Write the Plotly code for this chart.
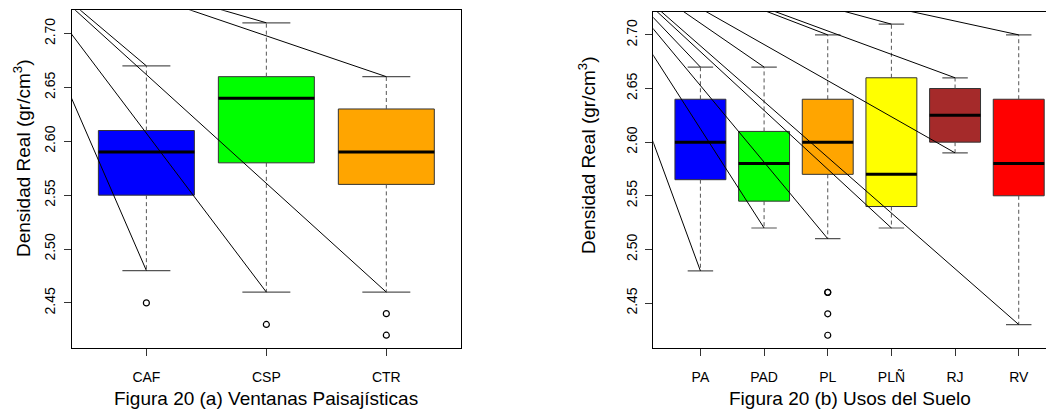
import plotly.graph_objects as go

# ---------------- data ----------------
# Panel (a): Ventanas Paisajisticas
cat_a = ["CAF", "CSP", "CTR"]
low_a = [2.48, 2.46, 2.46]
q1_a = [2.55, 2.58, 2.56]
med_a = [2.59, 2.64, 2.59]
q3_a = [2.61, 2.66, 2.63]
high_a = [2.67, 2.71, 2.66]
out_a = [[2.45], [2.43], [2.44, 2.42]]
col_a = ["#0000FF", "#00FF00", "#FFA500"]

# Panel (b): Usos del Suelo
cat_b = ["PA", "PAD", "PL", "PLÑ", "RJ", "RV"]
low_b = [2.48, 2.52, 2.51, 2.52, 2.59, 2.43]
q1_b = [2.565, 2.545, 2.57, 2.54, 2.60, 2.55]
med_b = [2.60, 2.58, 2.60, 2.57, 2.625, 2.58]
q3_b = [2.64, 2.61, 2.64, 2.66, 2.65, 2.64]
high_b = [2.67, 2.67, 2.70, 2.71, 2.66, 2.70]
out_b = [[], [], [2.46, 2.46, 2.44, 2.42], [], [], []]
col_b = ["#0000FF", "#00FF00", "#FFA500", "#FFFF00", "#A52A2A", "#FF0000"]

y_ticks = [2.45, 2.50, 2.55, 2.60, 2.65, 2.70]
y_ticktext = ["2.45", "2.50", "2.55", "2.60", "2.65", "2.70"]
y_range = [2.4084, 2.7216]

# common point from which the stray (artifact) lines of the original run to whisker ends
origin_a = (-0.17, 2.78)
origin_b = (-0.91, 2.789)

FONT = "Liberation Sans, Arial, sans-serif"
OFF = 8  # page body margin
W, H = 1054 - OFF, 409 - OFF


def px(xp):
    return (xp - OFF) / W


def py(yp):
    return 1 - (yp - OFF) / H


fig = go.Figure()


def add_panel(xa, ya, cats, low, q1, med, q3, high, outs, cols, origin):
    bw = 0.4
    cw = 0.2
    for i, c in enumerate(cats):
        x = i + 1
        # box
        fig.add_trace(go.Scatter(
            x=[x - bw, x + bw, x + bw, x - bw, x - bw],
            y=[q1[i], q1[i], q3[i], q3[i], q1[i]],
            mode="lines", fill="toself", fillcolor=cols[i],
            line=dict(color="#333333", width=1),
            xaxis=xa, yaxis=ya, hoverinfo="skip", showlegend=False))
        # dashed whiskers
        fig.add_trace(go.Scatter(
            x=[x, x, None, x, x], y=[q3[i], high[i], None, q1[i], low[i]],
            mode="lines", line=dict(color="#555555", width=1, dash="4px,3px"),
            xaxis=xa, yaxis=ya, hoverinfo="skip", showlegend=False))
        # caps
        fig.add_trace(go.Scatter(
            x=[x - cw, x + cw, None, x - cw, x + cw],
            y=[high[i], high[i], None, low[i], low[i]],
            mode="lines", line=dict(color="#555555", width=1.2),
            xaxis=xa, yaxis=ya, hoverinfo="skip", showlegend=False))
        # median
        fig.add_trace(go.Scatter(
            x=[x - bw, x + bw], y=[med[i], med[i]],
            mode="lines", line=dict(color="black", width=3),
            xaxis=xa, yaxis=ya, hoverinfo="skip", showlegend=False))
        # outliers
        if outs[i]:
            fig.add_trace(go.Scatter(
                x=[x] * len(outs[i]), y=outs[i], mode="markers",
                marker=dict(symbol="circle-open", size=6, color="black",
                            line=dict(width=1.2, color="black")),
                xaxis=xa, yaxis=ya, hoverinfo="skip", showlegend=False))
    # stray lines
    lx, ly = [], []
    for i in range(len(cats)):
        for v in (low[i], high[i]):
            lx += [origin[0], i + 1, None]
            ly += [origin[1], v, None]
    fig.add_trace(go.Scatter(
        x=lx, y=ly, mode="lines", line=dict(color="black", width=1),
        xaxis=xa, yaxis=ya, hoverinfo="skip", showlegend=False))


add_panel("x", "y", cat_a, low_a, q1_a, med_a, q3_a, high_a, out_a, col_a, origin_a)
add_panel("x2", "y2", cat_b, low_b, q1_b, med_b, q3_b, high_b, out_b, col_b, origin_b)

xcommon = dict(ticks="outside", ticklen=7, tickcolor="#333333", showline=True,
               linecolor="black", linewidth=1, showgrid=False, zeroline=False,
               ticklabelstandoff=9,
               tickfont=dict(family=FONT, size=14, color="black"), fixedrange=True)
ycommon = dict(ticks="outside", ticklen=7, tickcolor="#333333", showline=True,
               linecolor="black", linewidth=1, showgrid=False, zeroline=False,
               tickvals=y_ticks, ticktext=y_ticktext, tickangle=-90, range=y_range,
               ticklabelstandoff=3,
               tickfont=dict(family=FONT, size=14, color="black"), fixedrange=True)

fig.update_layout(
    width=W, height=H,
    margin=dict(l=0, r=0, t=0, b=0),
    paper_bgcolor="white", plot_bgcolor="white",
    showlegend=False,
    xaxis=dict(domain=[px(72), px(460.7)], range=[0.38, 3.62],
               tickvals=[1, 2, 3], ticktext=cat_a, mirror=True, anchor="y", **xcommon),
    yaxis=dict(domain=[py(347.7), py(10.3)], mirror=True, anchor="x", **ycommon),
    xaxis2=dict(domain=[px(653.3), 1.0], range=[0.26, 6.554],
                tickvals=[1, 2, 3, 4, 5, 6], ticktext=cat_b, mirror=True, anchor="y2", **xcommon),
    yaxis2=dict(domain=[py(347.7), py(11.7)], mirror=False, anchor="x2", **ycommon),
)

ann_font = dict(family=FONT, size=19, color="black")
fig.add_annotation(text="Densidad Real (gr/cm<sup>3</sup>)", textangle=-90,
                   x=px(22), y=py(159), xref="paper", yref="paper",
                   showarrow=False, font=ann_font, xanchor="center", yanchor="middle")
fig.add_annotation(text="Densidad Real (gr/cm<sup>3</sup>)", textangle=-90,
                   x=px(587), y=py(156), xref="paper", yref="paper",
                   showarrow=False, font=ann_font, xanchor="center", yanchor="middle")
fig.add_annotation(text="Figura 20 (a) Ventanas Paisajísticas",
                   x=px(266), y=py(398), xref="paper", yref="paper",
                   showarrow=False, font=ann_font, xanchor="center", yanchor="middle")
fig.add_annotation(text="Figura 20 (b) Usos del Suelo",
                   x=px(850), y=py(398), xref="paper", yref="paper",
                   showarrow=False, font=ann_font, xanchor="center", yanchor="middle")

fig.write_html("out.html", config={"displayModeBar": False})
